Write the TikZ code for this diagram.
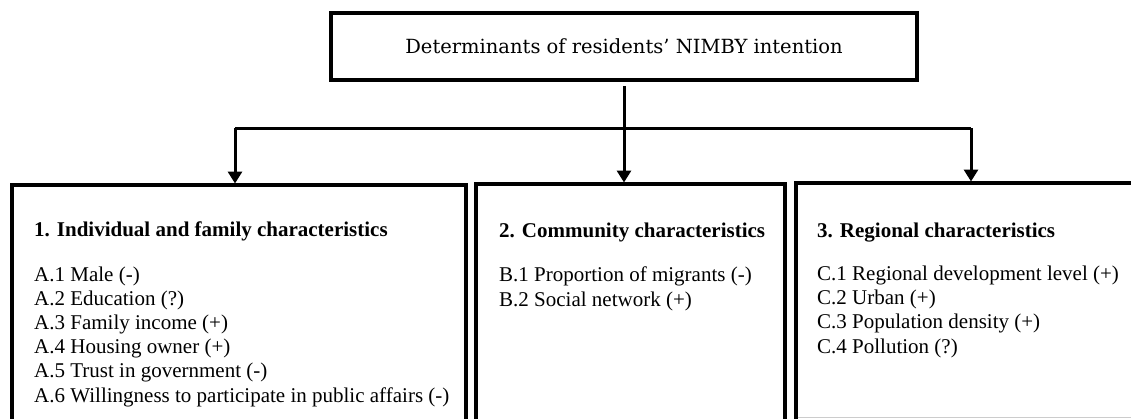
\documentclass[tikz,border=0pt]{standalone}
\usepackage{fontspec}
\setmainfont{Liberation Serif}
\newfontfamily\titlefont{DejaVu Serif}
\usetikzlibrary{arrows.meta}
\begin{document}
\begin{tikzpicture}[x=1pt,y=-1pt,
  boxline/.style={line width=3.6pt,line join=miter},
  conn/.style={line width=3pt},
  arr/.style={conn,-{Triangle[width=14pt,length=12pt]}},
  item/.style={anchor=base west,inner sep=0pt,align=left,font=\fontsize{21}{24.2}\selectfont},
]
\useasboundingbox (0,0) rectangle (1131,418);
\clip (0,0) rectangle (1131,418);
\fill[white] (0,0) rectangle (1131,418);
% top box
\node[draw,boxline,minimum width=586pt,minimum height=67pt,inner sep=0pt,
      font=\titlefont\fontsize{19.5}{22}\selectfont] (top) at (624,46.5)
      {Determinants of residents’ NIMBY intention};
% category boxes (open below the picture's edge)
\coordinate (b1nw) at (12,185);
\coordinate (b1ne) at (466,185);
\coordinate (b2nw) at (476,184);
\coordinate (b2ne) at (785,184);
\coordinate (b3nw) at (796,183);
\coordinate (b3ne) at (1140,183);
\draw[boxline] (12,430) -- (b1nw) -- (b1ne) -- (466,430);
\draw[boxline] (476,430) -- (b2nw) -- (b2ne) -- (785,430);
\draw[boxline] (796,430) -- (b3nw) -- (b3ne);
\draw[gray!40,line width=1pt] (797.8,417.5) -- (1131,417.5);
% connectors
\coordinate (split) at (624,128);
\coordinate (jl) at (235,128);
\coordinate (jr) at (971,128);
\coordinate (topout) at (624,86);
\draw[conn] (jl) -- (jr);
\draw[arr] (topout) -- (624,182.5);
\draw[arr] (jl) -- (235,183.5);
\draw[arr] (jr) -- (971,181.5);
% texts
\node[item] (t1) at (34,236) {\textbf{1. Individual and family characteristics}};
\node[item] (l1) at (34,402) {A.1 Male (-)\\A.2 Education (?)\\A.3 Family income (+)\\A.4 Housing owner (+)\\A.5 Trust in government (-)\\A.6 Willingness to participate in public affairs (-)};
\node[item] (t2) at (499,237) {\textbf{2. Community characteristics}};
\node[item] (l2) at (499,306) {B.1 Proportion of migrants (-)\\B.2 Social network (+)};
\node[item] (t3) at (817,237) {\textbf{3. Regional characteristics}};
\node[item] (l3) at (817,353) {C.1 Regional development level (+)\\C.2 Urban (+)\\C.3 Population density (+)\\C.4 Pollution (?)};
\end{tikzpicture}
\end{document}
